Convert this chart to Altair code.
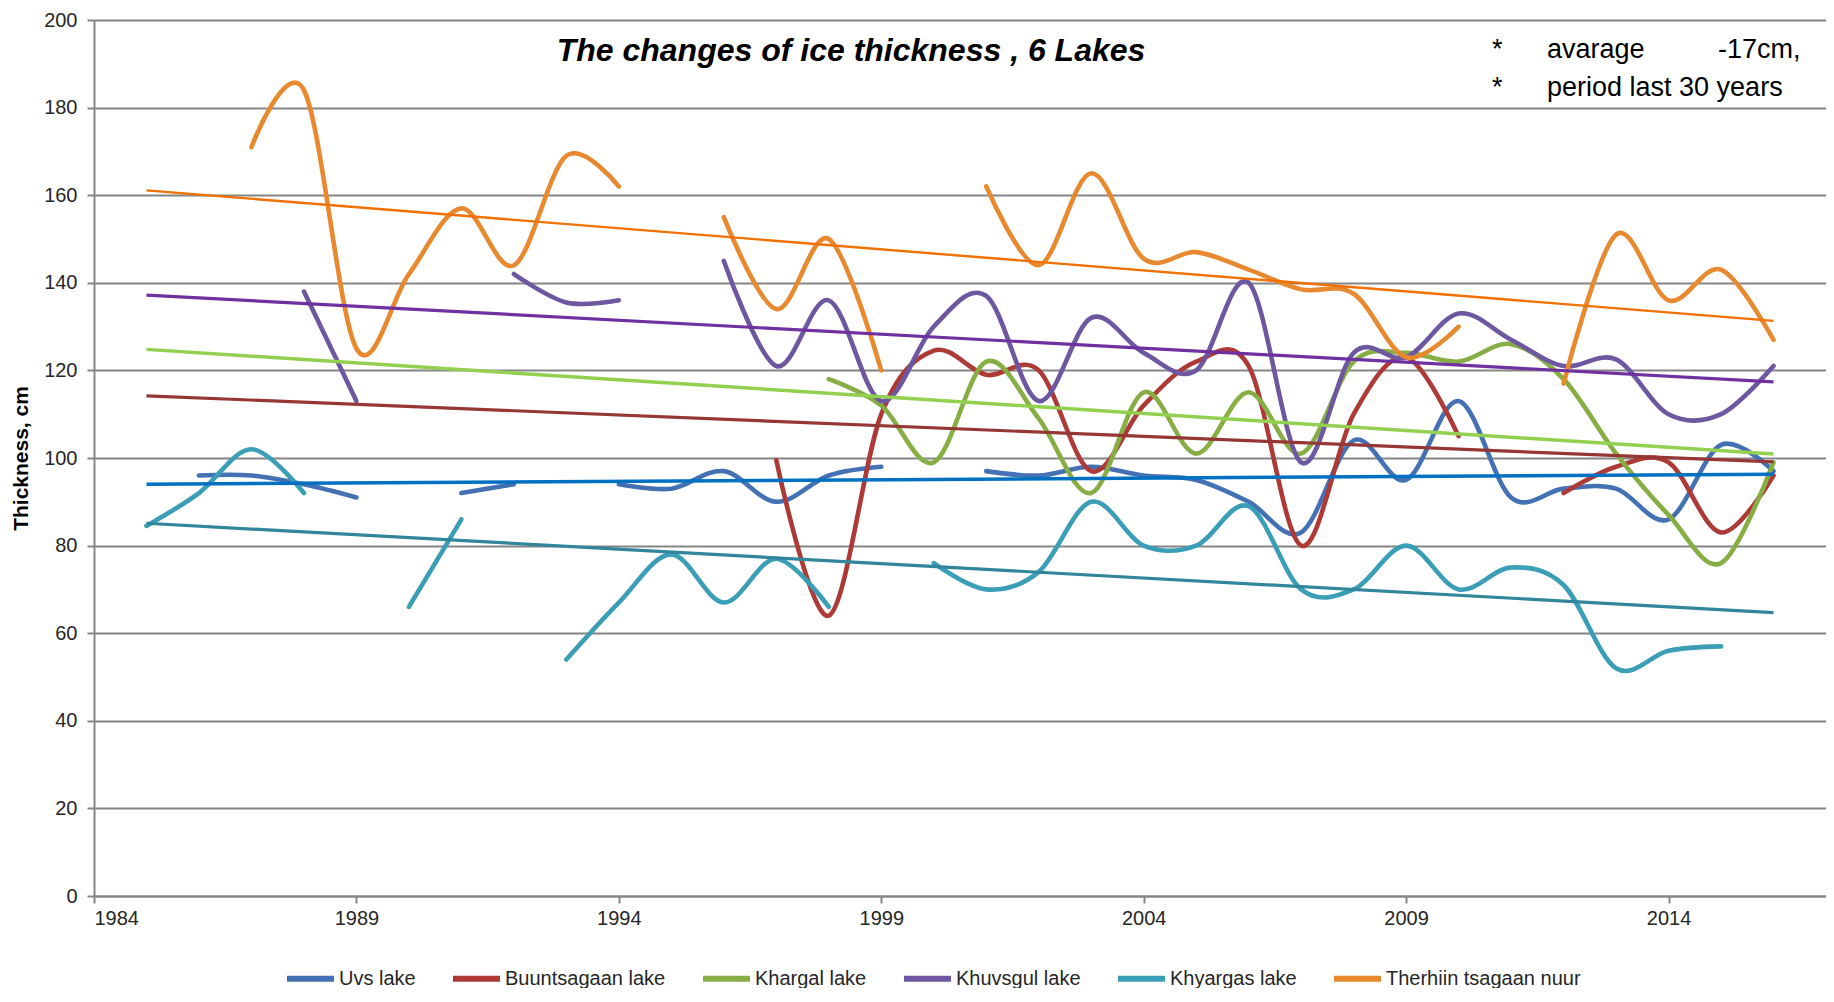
import altair as alt
import pandas as pd

# ---------------- data ----------------
years = list(range(1985, 2017))
lakes = ["Uvs lake", "Buuntsagaan lake", "Khargal lake", "Khuvsgul lake",
         "Khyargas lake", "Therhiin tsagaan nuur"]
N = None
uvs = [N, 96, 96, 94, 91, N, 92, 94, N, 94, 93, 97, 90, 96, 98, N,
       97, 96, 98, 96, 95, 90, 83, 104, 95, 113, 91, 93, 93, 86, 103, 97]
buuntsagaan = [N, N, N, N, N, N, N, N, N, N, N, N, 99.5, 64, 110, 124.5,
               119, 120, 97, 112, 122, 121, 80, 110, 123, 105, N, 92, 98, 99, 83, 96]
khargal = [N, N, N, N, N, N, N, N, N, N, N, N, N, 118, 112, 99,
           122, 109, 92, 115, 101, 115, 101, 122, 124, 122, 126, 118, 101, 87, 76, 99]
khuvsgul = [N, N, N, 138, 113, N, N, 142, 135.5, 136, N, 145, 121, 136, 113, 130,
            137, 113, 132, 124, 120, 140, 99, 124, 123, 133, 127, 121, 122.5, 110, 110, 121]
khyargas = [84.5, 92, 102, 92, N, 66, 86, N, 54, 67, 78, 67, 77, 66, N, 76,
            70, 74, 90, 80, 80, 89, 70, 70, 80, 70, 75, 71, 52, 56, 57, N]
therhiin = [N, N, 171, 184, 125, 142, 157, 144, 169, 162, N, 155, 134, 150, 120, N,
            162, 144, 165, 145.5, 147, 143, 138.5, 137.5, 123, 130, N, 117, 151, 136, 143, 127]
series = [uvs, buuntsagaan, khargal, khuvsgul, khyargas, therhiin]

trend_years = [1985, 2016]
trend_start = [94, 114.2, 124.8, 137.2, 85.1, 161.1]
trend_end = [96.3, 99.1, 100.9, 117.4, 64.7, 131.3]

x_ticks = [1984, 1989, 1994, 1999, 2004, 2009, 2014]
y_ticks = list(range(0, 201, 20))

# ---------------- styles ----------------
data_colors = ["#4371B4", "#AD3A37", "#87AE45", "#6D57A0", "#3A9EB6", "#E8892F"]
trend_colors = ["#0070C0", "#953735", "#92D050", "#7030A0", "#31859C", "#F07000"]
trend_widths = [3.5, 3.2, 3.5, 3.2, 3.2, 2.4]
FONT = "Liberation Sans"
GRID = "#858585"

# ---------------- tables ----------------
rows = []
for lake, vals in zip(lakes, series):
    seg = 0
    for yr, v in zip(years, vals):
        if v is None:
            seg += 1
            continue
        rows.append({"lake": lake, "year": yr, "value": v, "seg": f"{lake}-{seg}"})
df = pd.DataFrame(rows)

trows = []
for lake, a, b in zip(lakes, trend_start, trend_end):
    trows.append({"lake": lake, "year": trend_years[0], "value": a})
    trows.append({"lake": lake, "year": trend_years[1], "value": b})
tdf = pd.DataFrame(trows)

x_enc = alt.X("year:Q",
              scale=alt.Scale(domain=[1984, 2017], nice=False, zero=False),
              axis=alt.Axis(values=x_ticks, format="d", grid=False, title=None,
                            domainColor=GRID, domainWidth=2, tickColor=GRID,
                            tickWidth=2, tickSize=7, labelFont=FONT,
                            labelFontSize=20, labelColor="#262626",
                            labelPadding=5))
y_enc = alt.Y("value:Q",
              scale=alt.Scale(domain=[0, 200], nice=False),
              axis=alt.Axis(values=y_ticks, grid=True, gridColor=GRID, gridWidth=2,
                            domainColor=GRID, domainWidth=2, tickColor=GRID,
                            tickWidth=2, tickSize=7, labelFont=FONT,
                            labelFontSize=20, labelColor="#262626", labelPadding=10,
                            title="Thickness, cm", titleFont=FONT,
                            titleFontWeight="bold", titleFontSize=21,
                            titleColor="#000000", titleX=-73, titleY=438,
                            titleAngle=270, titleAlign="center",
                            titleBaseline="middle"))

lines = alt.Chart(df).mark_line(interpolate="cardinal", strokeWidth=4.6,
                                strokeCap="round", strokeJoin="round").encode(
    x=x_enc,
    y=y_enc,
    color=alt.Color("lake:N", sort=lakes,
                    scale=alt.Scale(domain=lakes, range=data_colors),
                    legend=alt.Legend(title=None, orient="none", legendX=190,
                                      legendY=932, direction="horizontal",
                                      symbolType="stroke", symbolSize=2209,
                                      symbolStrokeWidth=6, labelFont=FONT,
                                      labelFontSize=20, labelColor="#262626",
                                      columnPadding=25, labelOffset=2,
                                      padding=0, labelLimit=500)),
    detail="seg:N",
)

trend_layers = []
for lake, c, w in zip(lakes, trend_colors, trend_widths):
    trend_layers.append(
        alt.Chart(tdf).transform_filter(alt.datum.lake == lake)
        .mark_line(color=c, strokeWidth=w)
        .encode(x="year:Q", y="value:Q")
    )

one = alt.Data(values=[{"k": 1}])
title_txt = alt.Chart(one).mark_text(
    text="The changes of ice thickness , 6 Lakes", font=FONT, fontSize=32,
    fontWeight="bold", fontStyle="italic", align="center", baseline="middle",
    color="#000000").encode(x=alt.value(757), y=alt.value(31))

note_style = dict(font=FONT, fontSize=27, align="left", baseline="middle",
                  color="#000000")
star1 = alt.Chart(one).mark_text(text="*", **note_style).encode(x=alt.value(1398), y=alt.value(30))
star2 = alt.Chart(one).mark_text(text="*", **note_style).encode(x=alt.value(1398), y=alt.value(68))
note1a = alt.Chart(one).mark_text(text="avarage", **note_style).encode(x=alt.value(1453), y=alt.value(30))
note1b = alt.Chart(one).mark_text(text="-17cm,", **note_style).encode(x=alt.value(1624), y=alt.value(30))
note2 = alt.Chart(one).mark_text(text="period last 30 years", **note_style).encode(x=alt.value(1453), y=alt.value(68))

chart = alt.layer(lines, *trend_layers, title_txt, star1, star2, note1a, note1b, note2).properties(
    width=1732, height=876,
    padding={"left": 86, "top": 12, "right": 0, "bottom": 92},
    autosize=alt.AutoSizeParams(type="none"),
    background="#ffffff",
).configure_view(stroke=None)

chart.save("out.html", embed_options={"renderer": "svg", "actions": False})
